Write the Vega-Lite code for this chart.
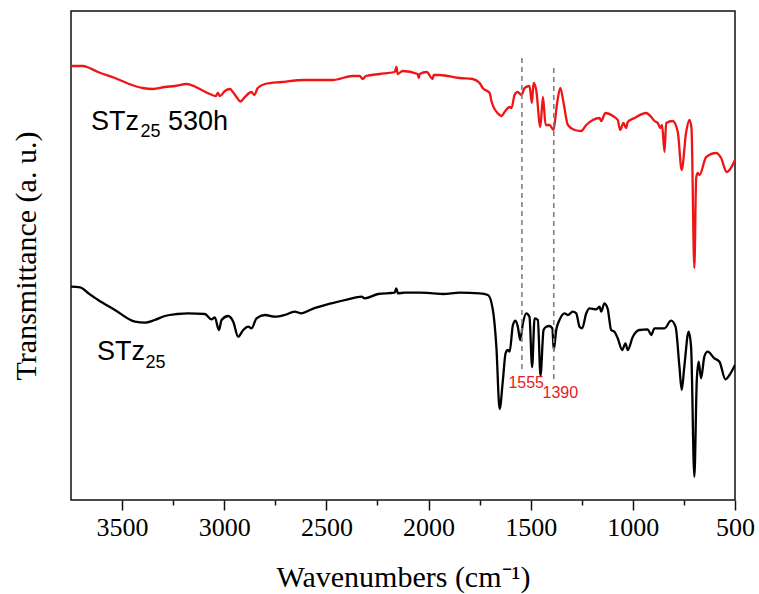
{
  "$schema": "https://vega.github.io/schema/vega-lite/v6.json",
  "width": 664,
  "height": 489,
  "autosize": {"type": "none"},
  "padding": {"left": 71, "top": 11, "right": 24, "bottom": 94},
  "background": "white",
  "config": {
    "view": {"stroke": "#111", "strokeWidth": 1.5},
    "axis": {"grid": false, "titleFont": "Liberation Serif", "titleFontWeight": "normal", "titleColor": "#000", "labelFont": "Liberation Serif", "labelColor": "#000"}
  },
  "datasets": {
    "spectra": [
      {"s":"STz25 530h","x":3750,"y":434},{"s":"STz25 530h","x":3691,"y":434},{"s":"STz25 530h","x":3672,"y":433},{"s":"STz25 530h","x":3618,"y":428},{"s":"STz25 530h","x":3535,"y":422},{"s":"STz25 530h","x":3452,"y":415},{"s":"STz25 530h","x":3400,"y":412},{"s":"STz25 530h","x":3349,"y":411},{"s":"STz25 530h","x":3290,"y":413},{"s":"STz25 530h","x":3241,"y":414},{"s":"STz25 530h","x":3183,"y":416},{"s":"STz25 530h","x":3150,"y":414},{"s":"STz25 530h","x":3129,"y":412},{"s":"STz25 530h","x":3070,"y":406},{"s":"STz25 530h","x":3041,"y":404},{"s":"STz25 530h","x":3031,"y":407},{"s":"STz25 530h","x":3021,"y":404},{"s":"STz25 530h","x":2997,"y":409},{"s":"STz25 530h","x":2972,"y":411},{"s":"STz25 530h","x":2958,"y":408},{"s":"STz25 530h","x":2940,"y":403},{"s":"STz25 530h","x":2921,"y":398.5},{"s":"STz25 530h","x":2899,"y":403},{"s":"STz25 530h","x":2867,"y":408},{"s":"STz25 530h","x":2853,"y":405},{"s":"STz25 530h","x":2836,"y":412},{"s":"STz25 530h","x":2801,"y":416},{"s":"STz25 530h","x":2718,"y":418},{"s":"STz25 530h","x":2606,"y":420},{"s":"STz25 530h","x":2469,"y":420},{"s":"STz25 530h","x":2371,"y":424},{"s":"STz25 530h","x":2337,"y":424},{"s":"STz25 530h","x":2322,"y":421},{"s":"STz25 530h","x":2307,"y":424},{"s":"STz25 530h","x":2239,"y":426},{"s":"STz25 530h","x":2166,"y":428},{"s":"STz25 530h","x":2157,"y":433},{"s":"STz25 530h","x":2151,"y":426},{"s":"STz25 530h","x":2127,"y":429},{"s":"STz25 530h","x":2053,"y":426},{"s":"STz25 530h","x":2048,"y":422},{"s":"STz25 530h","x":2043,"y":426},{"s":"STz25 530h","x":2009,"y":428},{"s":"STz25 530h","x":1980,"y":421},{"s":"STz25 530h","x":1975,"y":425},{"s":"STz25 530h","x":1946,"y":425},{"s":"STz25 530h","x":1848,"y":422},{"s":"STz25 530h","x":1784,"y":421},{"s":"STz25 530h","x":1750,"y":417},{"s":"STz25 530h","x":1735,"y":412},{"s":"STz25 530h","x":1701,"y":407},{"s":"STz25 530h","x":1691,"y":398},{"s":"STz25 530h","x":1652,"y":385},{"s":"STz25 530h","x":1642,"y":384},{"s":"STz25 530h","x":1628,"y":388},{"s":"STz25 530h","x":1603,"y":393},{"s":"STz25 530h","x":1594,"y":392},{"s":"STz25 530h","x":1579,"y":405},{"s":"STz25 530h","x":1564,"y":408},{"s":"STz25 530h","x":1545,"y":405},{"s":"STz25 530h","x":1530,"y":412},{"s":"STz25 530h","x":1506,"y":414},{"s":"STz25 530h","x":1494,"y":397},{"s":"STz25 530h","x":1486,"y":417},{"s":"STz25 530h","x":1473,"y":410},{"s":"STz25 530h","x":1453,"y":373},{"s":"STz25 530h","x":1440,"y":403},{"s":"STz25 530h","x":1427,"y":375},{"s":"STz25 530h","x":1408,"y":375},{"s":"STz25 530h","x":1388,"y":370},{"s":"STz25 530h","x":1372,"y":395},{"s":"STz25 530h","x":1355,"y":412},{"s":"STz25 530h","x":1339,"y":397},{"s":"STz25 530h","x":1318,"y":375},{"s":"STz25 530h","x":1285,"y":370},{"s":"STz25 530h","x":1253,"y":369},{"s":"STz25 530h","x":1228,"y":375},{"s":"STz25 530h","x":1196,"y":380},{"s":"STz25 530h","x":1163,"y":382},{"s":"STz25 530h","x":1155,"y":379},{"s":"STz25 530h","x":1134,"y":387},{"s":"STz25 530h","x":1098,"y":384},{"s":"STz25 530h","x":1074,"y":380},{"s":"STz25 530h","x":1062,"y":370},{"s":"STz25 530h","x":1046,"y":377},{"s":"STz25 530h","x":1033,"y":372},{"s":"STz25 530h","x":1025,"y":378},{"s":"STz25 530h","x":992,"y":382},{"s":"STz25 530h","x":935,"y":387},{"s":"STz25 530h","x":910,"y":383},{"s":"STz25 530h","x":894,"y":379},{"s":"STz25 530h","x":878,"y":377},{"s":"STz25 530h","x":866,"y":372},{"s":"STz25 530h","x":857,"y":375},{"s":"STz25 530h","x":845,"y":348},{"s":"STz25 530h","x":837,"y":377},{"s":"STz25 530h","x":805,"y":379},{"s":"STz25 530h","x":780,"y":368},{"s":"STz25 530h","x":761,"y":330},{"s":"STz25 530h","x":739,"y":368},{"s":"STz25 530h","x":723,"y":380},{"s":"STz25 530h","x":713,"y":372},{"s":"STz25 530h","x":699,"y":232},{"s":"STz25 530h","x":690,"y":322},{"s":"STz25 530h","x":682,"y":327},{"s":"STz25 530h","x":674,"y":325},{"s":"STz25 530h","x":641,"y":343},{"s":"STz25 530h","x":592,"y":347},{"s":"STz25 530h","x":568,"y":342},{"s":"STz25 530h","x":541,"y":328},{"s":"STz25 530h","x":500,"y":340},
      {"s":"STz25","x":3750,"y":213.3},{"s":"STz25","x":3706,"y":212.7},{"s":"STz25","x":3660,"y":206},{"s":"STz25","x":3617,"y":200},{"s":"STz25","x":3535,"y":190},{"s":"STz25","x":3437,"y":178.3},{"s":"STz25","x":3388,"y":177.3},{"s":"STz25","x":3340,"y":180},{"s":"STz25","x":3290,"y":184},{"s":"STz25","x":3230,"y":186},{"s":"STz25","x":3176,"y":186.7},{"s":"STz25","x":3095,"y":186},{"s":"STz25","x":3062,"y":180.7},{"s":"STz25","x":3046,"y":182.7},{"s":"STz25","x":3026,"y":170},{"s":"STz25","x":3013,"y":180},{"s":"STz25","x":2981,"y":184},{"s":"STz25","x":2956,"y":178.3},{"s":"STz25","x":2932,"y":163.3},{"s":"STz25","x":2907,"y":170},{"s":"STz25","x":2883,"y":173.3},{"s":"STz25","x":2866,"y":171.7},{"s":"STz25","x":2842,"y":181.7},{"s":"STz25","x":2801,"y":185},{"s":"STz25","x":2752,"y":183.3},{"s":"STz25","x":2704,"y":185},{"s":"STz25","x":2655,"y":188.3},{"s":"STz25","x":2622,"y":186.7},{"s":"STz25","x":2573,"y":190.7},{"s":"STz25","x":2475,"y":196.7},{"s":"STz25","x":2394,"y":200.7},{"s":"STz25","x":2328,"y":203.3},{"s":"STz25","x":2312,"y":201.7},{"s":"STz25","x":2247,"y":206},{"s":"STz25","x":2166,"y":207.3},{"s":"STz25","x":2158,"y":211.7},{"s":"STz25","x":2150,"y":206.7},{"s":"STz25","x":2117,"y":207.3},{"s":"STz25","x":2043,"y":207.3},{"s":"STz25","x":1978,"y":206.7},{"s":"STz25","x":1929,"y":206},{"s":"STz25","x":1848,"y":207.3},{"s":"STz25","x":1750,"y":206.7},{"s":"STz25","x":1709,"y":205},{"s":"STz25","x":1685,"y":190},{"s":"STz25","x":1668,"y":153.3},{"s":"STz25","x":1652,"y":91},{"s":"STz25","x":1636,"y":120},{"s":"STz25","x":1623,"y":146.7},{"s":"STz25","x":1612,"y":150},{"s":"STz25","x":1603,"y":148.3},{"s":"STz25","x":1587,"y":175},{"s":"STz25","x":1574,"y":179.3},{"s":"STz25","x":1563,"y":173.3},{"s":"STz25","x":1551,"y":160},{"s":"STz25","x":1538,"y":176.7},{"s":"STz25","x":1522,"y":186.7},{"s":"STz25","x":1506,"y":183.3},{"s":"STz25","x":1493,"y":133},{"s":"STz25","x":1481,"y":181.7},{"s":"STz25","x":1465,"y":180},{"s":"STz25","x":1452,"y":124.5},{"s":"STz25","x":1437,"y":170},{"s":"STz25","x":1424,"y":173.3},{"s":"STz25","x":1408,"y":174},{"s":"STz25","x":1394,"y":171.7},{"s":"STz25","x":1387,"y":150},{"s":"STz25","x":1375,"y":170},{"s":"STz25","x":1359,"y":180},{"s":"STz25","x":1334,"y":186.7},{"s":"STz25","x":1318,"y":185},{"s":"STz25","x":1294,"y":188.3},{"s":"STz25","x":1277,"y":186.7},{"s":"STz25","x":1261,"y":173.3},{"s":"STz25","x":1248,"y":171.7},{"s":"STz25","x":1228,"y":186.7},{"s":"STz25","x":1212,"y":191.7},{"s":"STz25","x":1179,"y":190.7},{"s":"STz25","x":1163,"y":193.3},{"s":"STz25","x":1155,"y":188.3},{"s":"STz25","x":1139,"y":196.7},{"s":"STz25","x":1123,"y":191},{"s":"STz25","x":1106,"y":170},{"s":"STz25","x":1090,"y":168.3},{"s":"STz25","x":1074,"y":161.7},{"s":"STz25","x":1052,"y":150},{"s":"STz25","x":1036,"y":156.7},{"s":"STz25","x":1025,"y":150},{"s":"STz25","x":1000,"y":163.3},{"s":"STz25","x":968,"y":170},{"s":"STz25","x":927,"y":170.7},{"s":"STz25","x":910,"y":165},{"s":"STz25","x":894,"y":171.7},{"s":"STz25","x":845,"y":171.7},{"s":"STz25","x":813,"y":179.3},{"s":"STz25","x":791,"y":173.3},{"s":"STz25","x":772,"y":133.3},{"s":"STz25","x":761,"y":110},{"s":"STz25","x":748,"y":133.3},{"s":"STz25","x":727,"y":168.3},{"s":"STz25","x":715,"y":153.3},{"s":"STz25","x":699,"y":23.3},{"s":"STz25","x":687,"y":120},{"s":"STz25","x":678,"y":138.3},{"s":"STz25","x":666,"y":121.7},{"s":"STz25","x":650,"y":143.3},{"s":"STz25","x":634,"y":148.3},{"s":"STz25","x":601,"y":141.7},{"s":"STz25","x":576,"y":138.3},{"s":"STz25","x":547,"y":120.7},{"s":"STz25","x":527,"y":125},{"s":"STz25","x":500,"y":135}
    ],
    "guides": [
      {"peak":"1555","x":1543,"y":442,"y2":131},
      {"peak":"1390","x":1387,"y":432,"y2":120}
    ],
    "peaklabels": [
      {"t":"1555","x":1522,"y":117},
      {"t":"1390","x":1355,"y":107}
    ],
    "names": [
      {"t":"STz","x":3652,"y":370,"k":"main"},
      {"t":"530h","x":3275,"y":370,"k":"main"},
      {"t":"STz","x":3623,"y":140,"k":"main"},
      {"t":"25","x":3410,"y":363,"k":"sub"},
      {"t":"25","x":3385,"y":132,"k":"sub"}
    ]
  },
  "encoding": {
    "x": {
      "field": "x", "type": "quantitative",
      "scale": {"domain": [500, 3750], "reverse": true, "nice": false, "zero": false},
      "axis": {
        "title": "Wavenumbers (cm⁻¹)",
        "titleFontSize": 30, "titlePadding": 22,
        "labelFontSize": 26, "labelPadding": 4,
        "values": [3500, 3250, 3000, 2750, 2500, 2250, 2000, 1750, 1500, 1250, 1000, 750, 500],
        "format": "d",
        "labelExpr": "datum.value % 500 === 0 ? datum.label : ''",
        "tickSize": {"condition": {"test": "datum.value % 500 === 0", "value": 10}, "value": 5},
        "tickColor": "#111", "tickWidth": 1.5,
        "domain": false, "labelFlush": false, "labelOverlap": false
      }
    },
    "y": {
      "field": "y", "type": "quantitative",
      "scale": {"domain": [0, 489], "nice": false, "zero": false},
      "axis": {
        "title": "Transmittance (a. u.)",
        "titleFontSize": 30, "titlePadding": 30,
        "labels": false, "ticks": false, "domain": false
      }
    }
  },
  "layer": [
    {
      "data": {"name": "spectra"},
      "mark": {"type": "line", "strokeWidth": 2.3, "clip": true, "interpolate": "monotone", "strokeJoin": "round"},
      "encoding": {
        "color": {"field": "s", "type": "nominal", "scale": {"domain": ["STz25 530h", "STz25"], "range": ["#f01414", "#000000"]}, "legend": null},
        "detail": {"field": "s"}
      }
    },
    {
      "data": {"name": "guides"},
      "mark": {"type": "rule", "strokeDash": [5, 4], "strokeWidth": 1.6, "color": "#808080"},
      "encoding": {"y2": {"field": "y2"}}
    },
    {
      "data": {"name": "peaklabels"},
      "mark": {"type": "text", "font": "Liberation Sans", "fontSize": 16, "color": "#e8201c", "align": "center", "baseline": "middle"},
      "encoding": {"text": {"field": "t"}}
    },
    {
      "data": {"name": "names"},
      "transform": [{"filter": "datum.k === 'main'"}],
      "mark": {"type": "text", "font": "Liberation Sans", "fontSize": 27, "color": "#000", "align": "left", "baseline": "alphabetic"},
      "encoding": {"text": {"field": "t"}}
    },
    {
      "data": {"name": "names"},
      "transform": [{"filter": "datum.k === 'sub'"}],
      "mark": {"type": "text", "font": "Liberation Sans", "fontSize": 18, "color": "#000", "align": "left", "baseline": "alphabetic"},
      "encoding": {"text": {"field": "t"}}
    }
  ]
}
